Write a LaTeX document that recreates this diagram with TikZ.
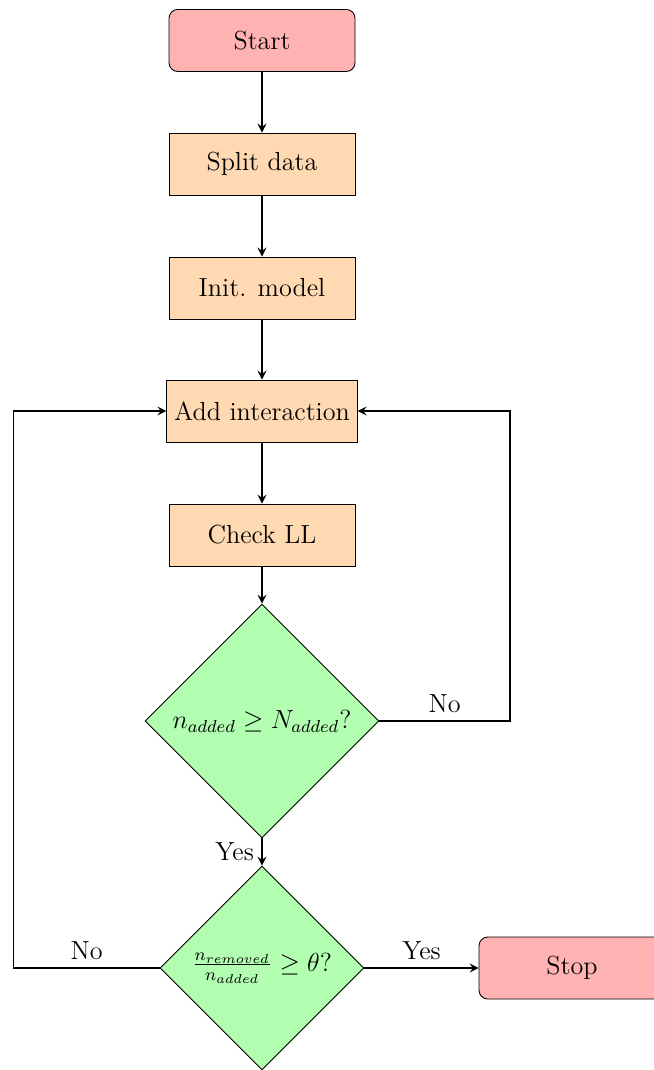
\documentclass[tikz,border=0pt]{standalone}
\usepackage{amsmath,amssymb}
\usepackage{tikz}
\usetikzlibrary{shapes.geometric,arrows}

\begin{document}
\begin{tikzpicture}[font=\large,
  startstop/.style={rectangle,rounded corners,minimum width=3cm,minimum height=1cm,draw=black,fill=red!30},
  process/.style={rectangle,minimum width=3cm,minimum height=1cm,draw=black,fill=orange!30},
  decision/.style={diamond,aspect=1,inner sep=0pt,draw=black,fill=green!30},
  arrow/.style={thick,-stealth}]
  \useasboundingbox (0,0) rectangle (10.548,-17.258);
  \node[startstop] (start) at (4.226,-0.653) {Start};
  \node[process] (split) at (4.226,-2.645) {Split data};
  \node[process] (init) at (4.226,-4.645) {Init. model};
  \node[process] (add) at (4.226,-6.629) {Add interaction};
  \node[process] (check) at (4.226,-8.629) {Check LL};
  \node[decision,minimum size=3.77cm] (dec1) at (4.226,-11.629) {$n_{added} \geq N_{added}$?};
  \node[decision,minimum size=3.29cm] (dec2) at (4.226,-15.613) {$\frac{n_{removed}}{n_{added}} \geq \theta$?};
  \node[startstop] (stop) at (9.226,-15.613) {Stop};
  \draw[arrow] (start) -- (split);
  \draw[arrow] (split) -- (init);
  \draw[arrow] (init) -- (add);
  \draw[arrow] (add) -- (check);
  \draw[arrow] (check) -- (dec1);
  \draw[arrow] (dec1) -- node[left] {Yes} (dec2);
  \draw[arrow] (dec1.east) -- ++(2.11,0) node[above,midway] {No} |- (add.east);
  \draw[arrow] (dec2.west) -- ++(-2.355,0) node[above,midway] {No} |- (add.west);
  \draw[arrow] (dec2.east) -- node[above] {Yes} (stop);
\end{tikzpicture}
\end{document}
